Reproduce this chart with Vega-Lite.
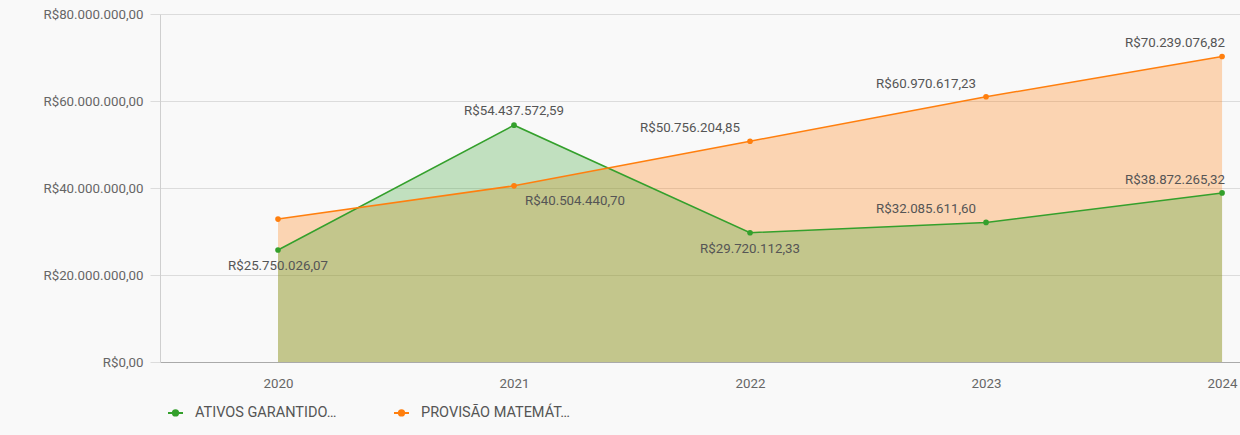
{
  "$schema": "https://vega.github.io/schema/vega-lite/v6.json",
  "width": 1080,
  "height": 348,
  "autosize": {"type": "none"},
  "padding": {"left": 160, "top": 14, "right": 0, "bottom": 73},
  "background": "#f9f9f9",
  "config": {
    "locale": {"number": {"decimal": ",", "thousands": ".", "grouping": [3], "currency": ["R$", ""]}},
    "font": "Roboto",
    "view": {"stroke": null}
  },
  "data": {
    "values": [
      {"ano": 2020, "serie": "ATIVOS GARANTIDORES", "valor": 25750026.07},
      {"ano": 2021, "serie": "ATIVOS GARANTIDORES", "valor": 54437572.59},
      {"ano": 2022, "serie": "ATIVOS GARANTIDORES", "valor": 29720112.33},
      {"ano": 2023, "serie": "ATIVOS GARANTIDORES", "valor": 32085611.60},
      {"ano": 2024, "serie": "ATIVOS GARANTIDORES", "valor": 38872265.32},
      {"ano": 2020, "serie": "PROVISÃO MATEMÁTICA", "valor": 32850000.00},
      {"ano": 2021, "serie": "PROVISÃO MATEMÁTICA", "valor": 40504440.70},
      {"ano": 2022, "serie": "PROVISÃO MATEMÁTICA", "valor": 50756204.85},
      {"ano": 2023, "serie": "PROVISÃO MATEMÁTICA", "valor": 60970617.23},
      {"ano": 2024, "serie": "PROVISÃO MATEMÁTICA", "valor": 70239076.82}
    ]
  },
  "encoding": {
    "x": {
      "field": "ano", "type": "quantitative",
      "scale": {"domain": [2019.5, 2024.076], "nice": false, "zero": false},
      "axis": {"values": [2020, 2021, 2022, 2023, 2024], "format": "d", "title": null, "grid": false, "ticks": false,
               "labelPadding": 14, "labelColor": "#666", "labelFontSize": 13.3, "domainColor": "#aaa", "labelFont": "Roboto"}
    },
    "y": {
      "field": "valor", "type": "quantitative", "stack": null,
      "scale": {"domain": [0, 80000000], "nice": false},
      "axis": {"values": [0, 20000000, 40000000, 60000000, 80000000], "format": "$,.2f", "title": null,
               "gridColor": "#dcdcdc", "tickColor": "#dcdcdc", "tickSize": 10, "domainColor": "#cfcfcf",
               "labelColor": "#666", "labelFontSize": 13.3, "labelPadding": 7, "labelFont": "Roboto"}
    },
    "color": {
      "field": "serie", "type": "nominal",
      "scale": {"domain": ["ATIVOS GARANTIDORES", "PROVISÃO MATEMÁTICA"], "range": ["#34a02c", "#ff7f0e"]},
      "legend": {
        "title": null, "orient": "none", "legendX": 7, "legendY": 390, "direction": "horizontal", "columns": 2,
        "labelExpr": "truncate(datum.label, 17)",
        "labelLimit": 200, "columnPadding": 53, "labelOffset": 11, "labelFontSize": 14.5, "labelColor": "#555", "labelFont": "Roboto",
        "symbolType": "M-1,0L1,0M-0.35,0A0.35,0.35 0 1,0 0.35,0A0.35,0.35 0 1,0 -0.35,0",
        "symbolSize": 225, "symbolStrokeWidth": 2,
        "encode": {"symbols": {"update": {"stroke": {"scale": "color", "field": "value"}, "fill": {"scale": "color", "field": "value"}, "opacity": {"value": 1}}}}
      }
    }
  },
  "layer": [
    {"transform": [{"filter": "datum.serie === 'PROVISÃO MATEMÁTICA'"}], "mark": {"type": "area", "opacity": 0.3}},
    {"transform": [{"filter": "datum.serie === 'ATIVOS GARANTIDORES'"}], "mark": {"type": "area", "opacity": 0.28}},
    {"mark": {"type": "line", "strokeWidth": 1.5}},
    {"mark": {"type": "point", "filled": true, "size": 32, "opacity": 1}},
    {
      "transform": [{"filter": "datum.serie === 'ATIVOS GARANTIDORES' && datum.ano === 2021"}],
      "mark": {"type": "text", "align": "center", "baseline": "bottom", "dy": -7, "fontSize": 13.3, "font": "Roboto"},
      "encoding": {"text": {"field": "valor", "type": "quantitative", "format": "$,.2f"}, "color": {"value": "#555"}}
    },
    {
      "transform": [{"filter": "datum.serie === 'ATIVOS GARANTIDORES' && (datum.ano === 2020 || datum.ano === 2022)"}],
      "mark": {"type": "text", "align": "center", "baseline": "top", "dy": 9, "fontSize": 13.3, "font": "Roboto"},
      "encoding": {"text": {"field": "valor", "type": "quantitative", "format": "$,.2f"}, "color": {"value": "#555"}}
    },
    {
      "transform": [{"filter": "datum.serie === 'PROVISÃO MATEMÁTICA' && datum.ano === 2021"}],
      "mark": {"type": "text", "align": "left", "baseline": "top", "dx": 11, "dy": 8, "fontSize": 13.3, "font": "Roboto"},
      "encoding": {"text": {"field": "valor", "type": "quantitative", "format": "$,.2f"}, "color": {"value": "#555"}}
    },
    {
      "transform": [{"filter": "(datum.serie === 'PROVISÃO MATEMÁTICA' && (datum.ano === 2022 || datum.ano === 2023)) || (datum.serie === 'ATIVOS GARANTIDORES' && datum.ano === 2023)"}],
      "mark": {"type": "text", "align": "right", "baseline": "bottom", "dx": -10, "dy": -6, "fontSize": 13.3, "font": "Roboto"},
      "encoding": {"text": {"field": "valor", "type": "quantitative", "format": "$,.2f"}, "color": {"value": "#555"}}
    },
    {
      "transform": [{"filter": "datum.ano === 2024"}],
      "mark": {"type": "text", "align": "right", "baseline": "bottom", "dx": 3, "dy": -6, "fontSize": 13.3, "font": "Roboto"},
      "encoding": {"text": {"field": "valor", "type": "quantitative", "format": "$,.2f"}, "color": {"value": "#555"}}
    }
  ]
}
